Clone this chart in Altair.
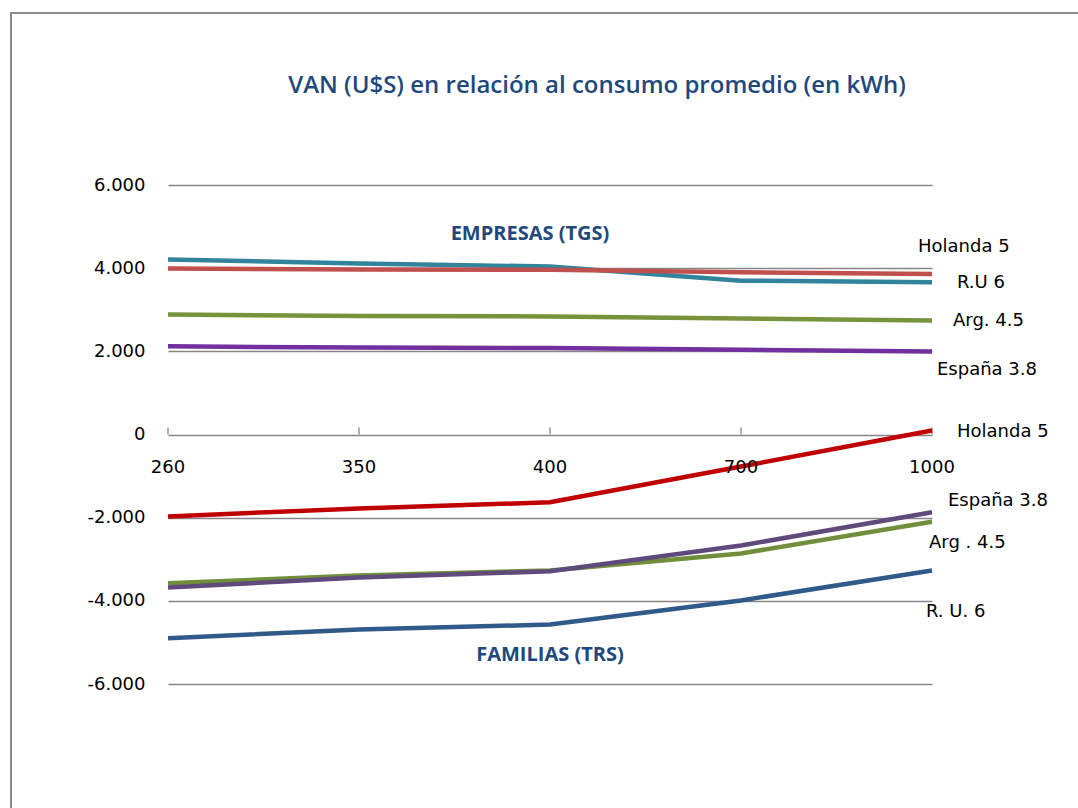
import altair as alt
import pandas as pd

categories = ["260", "350", "400", "700", "1000"]

# Empresas (TGS)
emp_holanda = [3990, 3970, 3960, 3900, 3860]
emp_ru = [4210, 4110, 4040, 3700, 3660]
emp_arg = [2885, 2850, 2840, 2790, 2740]
emp_espana = [2120, 2090, 2080, 2040, 1995]

# Familias (TRS)
fam_holanda = [-1970, -1780, -1630, -770, 95]
fam_espana = [-3680, -3440, -3290, -2670, -1870]
fam_arg = [-3580, -3390, -3270, -2860, -2100]
fam_ru = [-4900, -4690, -4570, -3990, -3270]

series = [
    ("emp_ru", emp_ru, "#31849B"),
    ("emp_holanda", emp_holanda, "#C0504D"),
    ("emp_arg", emp_arg, "#77933C"),
    ("emp_espana", emp_espana, "#7030A0"),
    ("fam_holanda", fam_holanda, "#C00000"),
    ("fam_arg", fam_arg, "#6F8F3A"),
    ("fam_espana", fam_espana, "#604A7B"),
    ("fam_ru", fam_ru, "#2F5A8A"),
]

rows = []
for order, (name, vals, col) in enumerate(series):
    for c, v in zip(categories, vals):
        rows.append({"serie": name, "cat": c, "value": v, "color": col, "order": order})
df = pd.DataFrame(rows)

# right-hand series labels
label_texts = ["Holanda 5", "R.U 6", "Arg. 4.5", "España 3.8",
               "Holanda 5", "España 3.8", "Arg . 4.5", "R. U. 6"]
label_values = [4520, 3655, 2720, 1540, 50, -1610, -2620, -4280]
label_dx = [-14, 25, 21, 5, 25, 16, -3, -6]
labels_df = pd.DataFrame({"text": label_texts, "value": label_values,
                          "dx": label_dx, "cat": ["1000"] * len(label_texts)})

group_texts = ["EMPRESAS (TGS)", "FAMILIAS (TRS)"]
group_values = [4830, -5310]
group_cats = ["400", "400"]
group_dx = [-20, 0]
groups_df = pd.DataFrame({"text": group_texts, "value": group_values,
                          "cat": group_cats, "dx": group_dx})

cats_df = pd.DataFrame({"cat": categories, "zero": [0] * 5, "tick": [170] * 5})

xscale = alt.Scale(type="point", padding=0, domain=categories)
yscale = alt.Scale(domain=[-6000, 6000], nice=False, zero=False)

base_x = alt.X("cat:N", scale=xscale, axis=None, sort=categories)

label_expr = ("datum.value < 0 ? '-' + replace(format(-datum.value, ','), ',', '.') "
              ": replace(format(datum.value, ','), ',', '.')")

grid = alt.Chart(cats_df).mark_rule(opacity=0).encode(
    x=base_x,
    y=alt.Y("zero:Q", scale=yscale, title=None,
            axis=alt.Axis(values=[-6000, -4000, -2000, 0, 2000, 4000, 6000],
                          grid=True, gridColor="#868686", gridWidth=1.3,
                          domain=False, ticks=False, labelPadding=23,
                          labelFont="DejaVu Sans", labelFontSize=18,
                          labelColor="#000000",
                          labelExpr=label_expr)),
)

ticks = alt.Chart(cats_df).mark_rule(color="#868686", strokeWidth=1.3).encode(
    x=base_x,
    y=alt.Y("zero:Q", scale=yscale),
    y2="tick:Q",
)

xlabels = alt.Chart(cats_df).mark_text(
    dy=33, font="DejaVu Sans", fontSize=18, color="#000000", baseline="middle"
).encode(x=base_x, y=alt.Y("zero:Q", scale=yscale), text="cat:N")

lines = alt.Chart(df).mark_line(strokeWidth=4.5).encode(
    x=base_x,
    y=alt.Y("value:Q", scale=yscale),
    color=alt.Color("color:N", scale=None),
    detail="serie:N",
    order="order:Q",
)

series_labels = alt.Chart(labels_df).mark_text(
    align="left", baseline="middle", font="DejaVu Sans", fontSize=18, color="#000000"
).encode(
    x=base_x, y=alt.Y("value:Q", scale=yscale), text="text:N",
    xOffset=alt.XOffset("dx:Q", scale=None),
)

group_labels = alt.Chart(groups_df).mark_text(
    align="center", baseline="middle", font="Open Sans", fontSize=20,
    fontWeight="bold", color="#1F497D"
).encode(
    x=base_x, y=alt.Y("value:Q", scale=yscale), text="text:N",
    xOffset=alt.XOffset("dx:Q", scale=None),
)

frame = alt.Chart(pd.DataFrame({"a": [0]})).mark_rect(
    fill=None, stroke="#8C8C8C", strokeWidth=2
).encode(
    x=alt.value(-157), x2=alt.value(940), y=alt.value(-172), y2=alt.value(650)
)

chart = alt.layer(frame, grid, ticks, lines, xlabels, series_labels, group_labels).properties(
    width=764, height=499,
    background="#FFFFFF",
    autosize=alt.AutoSizeParams(type="none"),
    padding={"left": 168, "top": 185, "right": 146, "bottom": 124},
    title=alt.TitleParams(
        "VAN (U$S) en relación al consumo promedio (en kWh)",
        anchor="middle", frame="group", dx=47, offset=-110, baseline="bottom",
        font="Open Sans", fontSize=24, fontWeight=600, color="#1F497D",
    ),
).configure_view(stroke=None)

chart.save("out.html", embed_options={"renderer": "svg", "actions": False})
